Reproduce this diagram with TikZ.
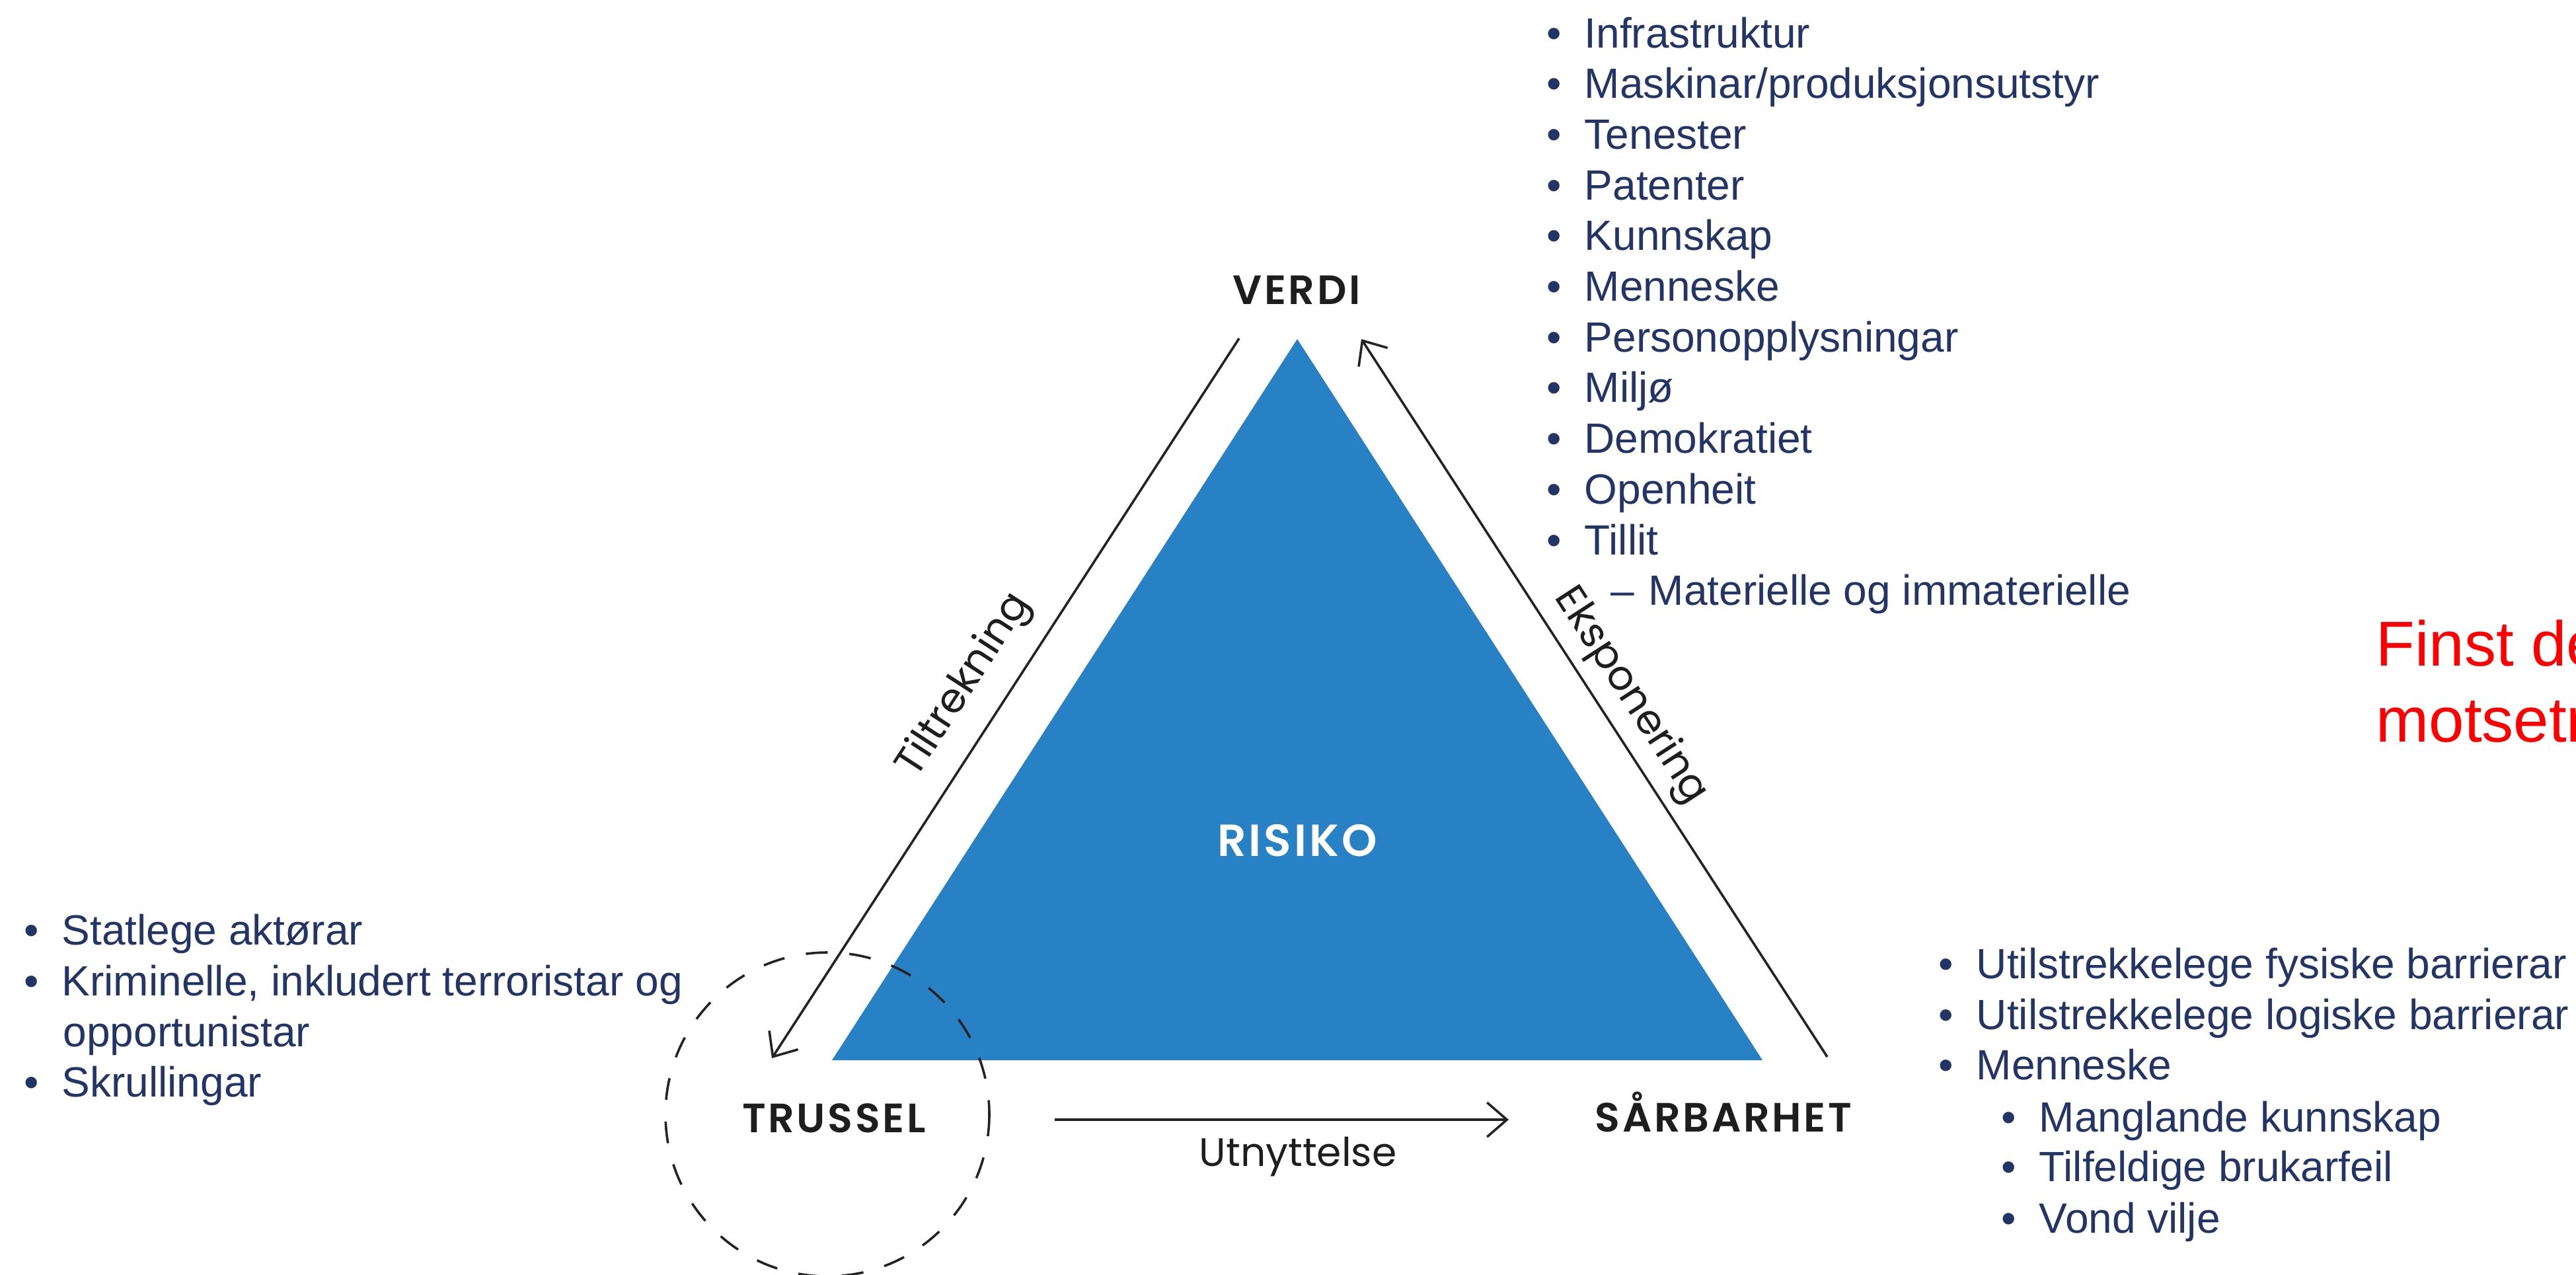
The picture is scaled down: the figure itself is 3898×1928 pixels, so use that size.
\documentclass[tikz,border=0pt]{standalone}
\usepackage{fontspec}
\setmainfont{Liberation Sans}
\newfontfamily\labelfont{Poppins}
\newfontfamily\labelheavyfont{Poppins SemiBold}[LetterSpace=6]
\usetikzlibrary{arrows.meta}

\definecolor{listblue}{RGB}{35,52,102}
\definecolor{riskblue}{RGB}{40,129,197}
\definecolor{linegray}{RGB}{35,35,35}
\definecolor{labelblack}{RGB}{30,30,30}
\definecolor{notered}{RGB}{255,0,0}

\newcommand{\itembullet}{\makebox[14.25pt][l]{\textbullet}}
\newcommand{\itemdash}{\makebox[14.25pt][l]{–}}

\tikzset{every picture/.style={line width=0.9pt}}

\begin{document}
\begin{tikzpicture}[x=0.25pt,y=0.25pt,yscale=-1,xscale=1,
  listitem/.style={anchor=base west,inner sep=0pt,text=listblue,font=\fontsize{16}{19.2}\selectfont},
  cornerlabel/.style={anchor=base,inner sep=0pt,text=labelblack,font=\labelheavyfont\fontsize{15.5}{18}\selectfont},
  sidelabel/.style={anchor=center,inner sep=0pt,text=labelblack,font=\labelfont\fontsize{15.5}{18}\selectfont},
  riskarrow/.style={draw=linegray,line width=0.9pt,-{Straight Barb[length=7.5pt,width=13pt]}}]
\path [use as bounding box] (0,0) rectangle (3898,1928);

%Shape: Triangle [id:risk]
\draw [draw=none,fill=riskblue] (1963,513) -- (2667,1604) -- (1259,1604) -- cycle ;

%Arrow ends
\coordinate (tiltA) at (1875,512);
\coordinate (tiltB) at (1168,1601);
\coordinate (ekspA) at (2765,1599);
\coordinate (ekspB) at (2060,513);
\coordinate (utnA) at (1596,1694);
\coordinate (utnB) at (2283,1694);

%Straight Lines [id:tiltrekning]
\draw [riskarrow] (tiltA) -- (tiltB) ;
%Straight Lines [id:eksponering]
\draw [riskarrow] (ekspA) -- (ekspB) ;
%Straight Lines [id:utnyttelse]
\draw [riskarrow] (utnA) -- (utnB) ;

%Shape: Circle [id:trusselring]
\draw [color=linegray,dash pattern=on 8.25pt off 8.25pt] (1252,1686) circle (245) ;

% Text Node
\draw (1962,460) node (verdi) [cornerlabel] {VERDI};
% Text Node
\draw (1262,1713) node (trussel) [cornerlabel] {TRUSSEL};
% Text Node
\draw (2608,1712) node (sarbarhet) [cornerlabel] {SÅRBARHET};
% Text Node
\draw (1963,1295) node (risiko) [cornerlabel,text=white,font=\labelheavyfont\fontsize{17}{20}\selectfont] {RISIKO};
% Text Node
\draw (1964,1764) node (utn) [anchor=base,inner sep=0pt,text=labelblack,font=\labelfont\fontsize{15}{18}\selectfont] {Utnyttelse};
% Text Node
\draw (1460,1037) node (tilt) [sidelabel,rotate=57] {Tiltrekning};
% Text Node
\draw (2467,1053) node (eksp) [sidelabel,rotate=-57] {Eksponering};

% Text Node
\draw (2339,72) node (val1) [listitem] {\itembullet Infrastruktur};
% Text Node
\draw (2339,148.7) node (val2) [listitem] {\itembullet Maskinar/produksjonsutstyr};
% Text Node
\draw (2339,225.4) node (val3) [listitem] {\itembullet Tenester};
% Text Node
\draw (2339,302.1) node (val4) [listitem] {\itembullet Patenter};
% Text Node
\draw (2339,378.8) node (val5) [listitem] {\itembullet Kunnskap};
% Text Node
\draw (2339,455.5) node (val6) [listitem] {\itembullet Menneske};
% Text Node
\draw (2339,532.2) node (val7) [listitem] {\itembullet Personopplysningar};
% Text Node
\draw (2339,608.9) node (val8) [listitem] {\itembullet Miljø};
% Text Node
\draw (2339,685.6) node (val9) [listitem] {\itembullet Demokratiet};
% Text Node
\draw (2339,762.3) node (val10) [listitem] {\itembullet Openheit};
% Text Node
\draw (2339,839) node (val11) [listitem] {\itembullet Tillit};
% Text Node
\draw (2436,915.7) node (val12) [listitem] {\itemdash Materielle og immaterielle};

% Text Node
\draw (35,1429) node (thr1) [listitem] {\itembullet Statlege aktørar};
% Text Node
\draw (35,1506) node (thr2) [listitem] {\itembullet Kriminelle, inkludert terroristar og};
% Text Node
\draw (94,1583) node (thr3) [listitem] {opportunistar};
% Text Node
\draw (35,1659) node (thr4) [listitem] {\itembullet Skrullingar};

% Text Node
\draw (2932,1480) node (vul1) [listitem] {\itembullet Utilstrekkelege fysiske barrierar};
% Text Node
\draw (2932,1557) node (vul2) [listitem] {\itembullet Utilstrekkelege logiske barrierar};
% Text Node
\draw (2932,1633) node (vul3) [listitem] {\itembullet Menneske};
% Text Node
\draw (3027,1712) node (vul4) [listitem] {\itembullet Manglande kunnskap};
% Text Node
\draw (3027,1787) node (vul5) [listitem] {\itembullet Tilfeldige brukarfeil};
% Text Node
\draw (3027,1865) node (vul6) [listitem] {\itembullet Vond vilje};

% Text Node
\draw (3594,1007) node (note1) [anchor=base west,inner sep=0pt,text=notered,font=\fontsize{24}{28.75}\selectfont] {Finst de};
% Text Node
\draw (3594,1122) node (note2) [anchor=base west,inner sep=0pt,text=notered,font=\fontsize{24}{28.75}\selectfont] {motsetr};

\end{tikzpicture}
\end{document}
